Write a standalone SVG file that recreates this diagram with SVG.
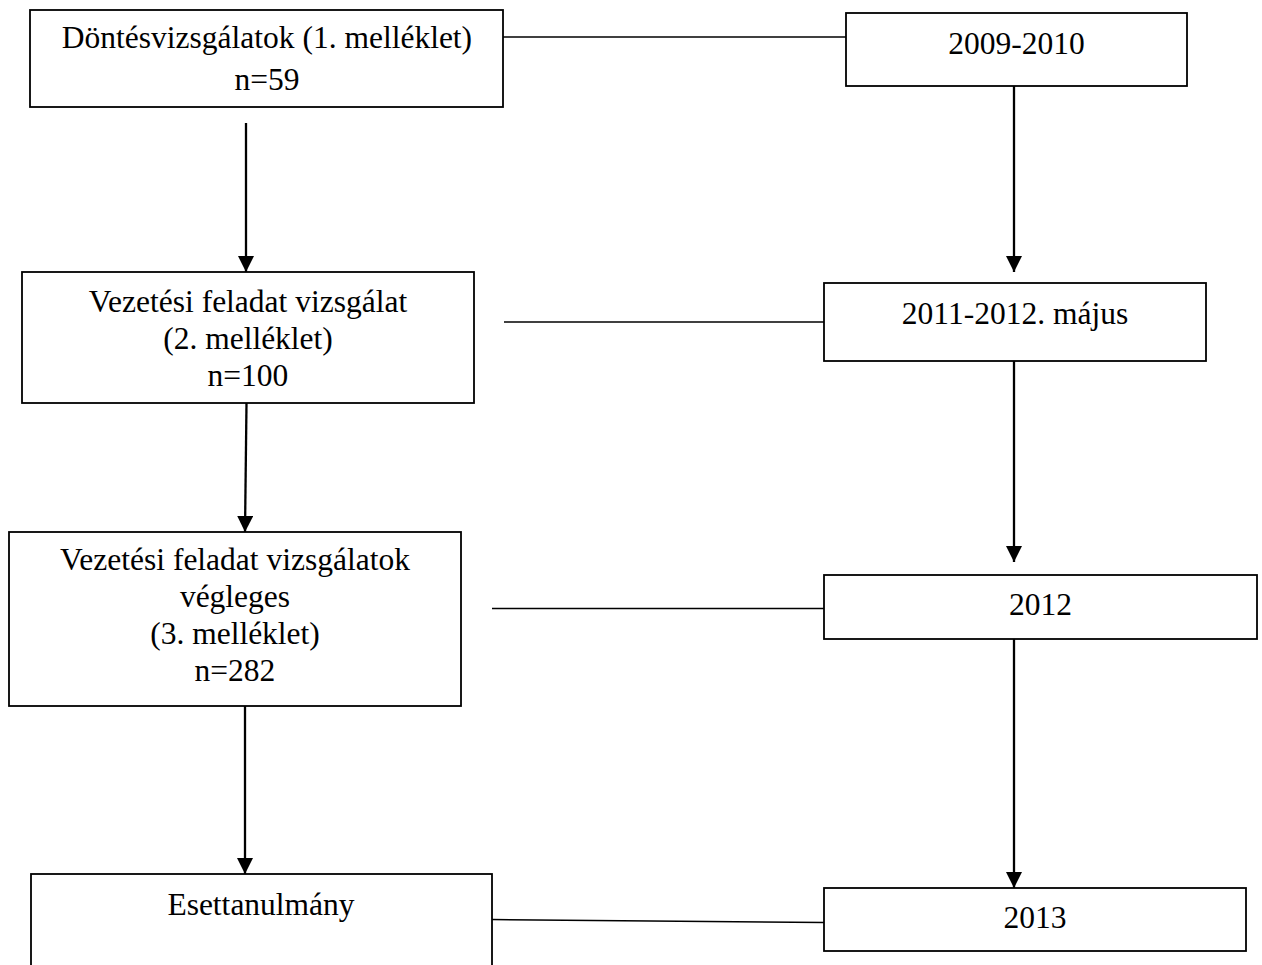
<svg xmlns="http://www.w3.org/2000/svg" width="1262" height="965" viewBox="0 0 1262 965">
<style>
.box{fill:#fff;stroke:#000;stroke-width:1.8}
.t{font-family:"Liberation Serif","Times New Roman",serif;font-size:31.5px;fill:#000;text-anchor:middle}
.ln{stroke:#000;stroke-width:1.5;fill:none}
.ar{stroke:#000;stroke-width:2.3;fill:none;marker-end:url(#ah)}
</style>
<defs>
<marker id="ah" markerUnits="userSpaceOnUse" markerWidth="16" markerHeight="16" viewBox="0 0 16 16" refX="16" refY="8" orient="auto">
<path d="M0,0 L16,8 L0,16 z" fill="#000"/>
</marker>
</defs>
<rect width="1262" height="965" fill="#fff"/>
<g id="connectors">
<line class="ln" x1="503" y1="37" x2="846" y2="37"/>
<line class="ln" x1="504" y1="322" x2="824" y2="322"/>
<line class="ln" x1="492" y1="608.5" x2="824" y2="608.5"/>
<line class="ln" x1="492" y1="919.5" x2="824" y2="922.5"/>
<line class="ar" x1="246" y1="123" x2="246" y2="272"/>
<line class="ar" x1="246.5" y1="403" x2="245" y2="532"/>
<line class="ar" x1="245" y1="706" x2="245" y2="874"/>
<line class="ar" x1="1014" y1="86" x2="1014" y2="272"/>
<line class="ar" x1="1014" y1="361" x2="1014" y2="562"/>
<line class="ar" x1="1014" y1="639" x2="1014" y2="888"/>
</g>
<g id="n1">
<rect class="box" x="30" y="10" width="473" height="97"/>
<text class="t" x="267" y="48">Döntésvizsgálatok (1. melléklet)</text>
<text class="t" x="267" y="90">n=59</text>
</g>
<g id="n2">
<rect class="box" x="22" y="272" width="452" height="131"/>
<text class="t" x="248" y="312">Vezetési feladat vizsgálat</text>
<text class="t" x="248" y="349">(2. melléklet)</text>
<text class="t" x="248" y="386">n=100</text>
</g>
<g id="n3">
<rect class="box" x="9" y="532" width="452" height="174"/>
<text class="t" x="235" y="570">Vezetési feladat vizsgálatok</text>
<text class="t" x="235" y="607">végleges</text>
<text class="t" x="235" y="644">(3. melléklet)</text>
<text class="t" x="235" y="681">n=282</text>
</g>
<g id="n4">
<rect class="box" x="31" y="874" width="461" height="100"/>
<text class="t" x="261" y="915">Esettanulmány</text>
</g>
<g id="r1">
<rect class="box" x="846" y="13" width="341" height="73"/>
<text class="t" x="1016.5" y="54">2009-2010</text>
</g>
<g id="r2">
<rect class="box" x="824" y="283" width="382" height="78"/>
<text class="t" x="1015" y="324">2011-2012. május</text>
</g>
<g id="r3">
<rect class="box" x="824" y="575" width="433" height="64"/>
<text class="t" x="1040.5" y="615">2012</text>
</g>
<g id="r4">
<rect class="box" x="824" y="888" width="422" height="63"/>
<text class="t" x="1035" y="928">2013</text>
</g>
</svg>
